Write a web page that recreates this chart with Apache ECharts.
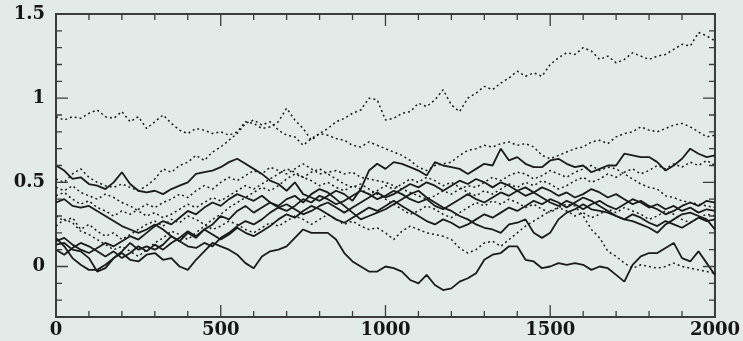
<!DOCTYPE html>
<html>
<head>
<meta charset="utf-8">
<script src="https://cdn.jsdelivr.net/npm/echarts@6/dist/echarts.min.js"></script>
<style>
html,body{margin:0;padding:0;background:#e3ebe8;}
#chart{width:743px;height:341px;}
</style>
</head>
<body>
<div id="chart"></div>
<script>
// x positions (iteration number)
const steps = [0,25,50,75,100,125,150,175,200,225,
250,275,300,325,350,375,400,425,450,475,
500,525,550,575,600,625,650,675,700,725,
750,775,800,825,850,875,900,925,950,975,
1000,1025,1050,1075,1100,1125,1150,1175,1200,1225,
1250,1275,1300,1325,1350,1375,1400,1425,1450,1475,
1500,1525,1550,1575,1600,1625,1650,1675,1700,1725,
1750,1775,1800,1825,1850,1875,1900,1925,1950,1975,
2000];

// tick values
const xTicks = [0,500,1000,1500,2000];
const xMinorTicks = [100,200,300,400,600,700,800,900,1100,1200,1300,1400,1600,1700,1800,1900];
const yTicks = [0,0.5,1,1.5];
const yMinorTicks = [-0.2,-0.1,0.1,0.2,0.3,0.4,0.6,0.7,0.8,0.9,1.1,1.2,1.3,1.4];

// traces (dotted = d, solid = s)
const traceA_d = [0.89,0.87,0.89,0.88,0.91,0.93,0.89,0.88,0.92,0.86,
0.89,0.82,0.86,0.90,0.85,0.81,0.79,0.82,0.81,0.79,
0.80,0.78,0.80,0.86,0.85,0.82,0.83,0.86,0.94,0.87,
0.82,0.75,0.79,0.82,0.86,0.88,0.91,0.93,1.00,0.99,
0.87,0.88,0.91,0.92,0.97,0.95,0.99,1.05,0.96,0.92,
1.00,1.03,1.07,1.05,1.09,1.12,1.16,1.13,1.15,1.13,
1.20,1.24,1.27,1.26,1.30,1.28,1.23,1.25,1.21,1.23,
1.27,1.25,1.23,1.25,1.26,1.29,1.32,1.31,1.39,1.37,
1.34];

const traceB_d = [0.52,0.50,0.55,0.58,0.53,0.50,0.48,0.47,0.49,0.47,
0.45,0.48,0.52,0.58,0.56,0.60,0.62,0.66,0.63,0.68,
0.71,0.75,0.79,0.85,0.87,0.84,0.86,0.81,0.78,0.77,
0.72,0.76,0.79,0.78,0.76,0.75,0.72,0.71,0.74,0.72,
0.70,0.68,0.66,0.63,0.59,0.57,0.60,0.61,0.62,0.66,
0.69,0.70,0.72,0.71,0.73,0.74,0.72,0.73,0.71,0.66,
0.64,0.66,0.68,0.70,0.71,0.74,0.75,0.73,0.77,0.79,
0.80,0.83,0.81,0.80,0.82,0.84,0.85,0.83,0.80,0.77,
0.78];

const traceC_s = [0.60,0.57,0.52,0.53,0.49,0.48,0.46,0.50,0.56,0.49,
0.45,0.44,0.45,0.43,0.46,0.48,0.50,0.55,0.56,0.57,
0.59,0.62,0.64,0.61,0.58,0.55,0.51,0.49,0.45,0.50,
0.43,0.41,0.39,0.42,0.45,0.43,0.39,0.46,0.57,0.61,
0.58,0.62,0.61,0.59,0.57,0.54,0.62,0.60,0.59,0.58,
0.55,0.58,0.61,0.60,0.70,0.63,0.65,0.61,0.59,0.59,
0.63,0.64,0.61,0.59,0.60,0.56,0.58,0.60,0.60,0.67,
0.66,0.65,0.65,0.62,0.57,0.60,0.64,0.70,0.67,0.65,
0.66];

const traceD_s = [0.17,0.12,0.05,0.01,-0.02,-0.02,0.01,0.05,0.08,0.04,
0.03,0.07,0.08,0.04,0.05,0.00,-0.02,0.04,0.09,0.14,
0.12,0.10,0.07,0.02,-0.01,0.06,0.09,0.10,0.12,0.17,
0.22,0.20,0.20,0.20,0.16,0.08,0.03,0.00,-0.03,-0.03,
0.00,-0.01,-0.03,-0.08,-0.10,-0.05,-0.11,-0.14,-0.13,-0.09,
-0.07,-0.04,0.04,0.07,0.08,0.12,0.12,0.04,0.03,-0.01,
0.00,0.02,0.01,0.02,0.01,-0.02,0.00,-0.01,-0.05,-0.09,
0.01,0.06,0.08,0.08,0.11,0.14,0.05,0.03,0.09,0.02,
-0.05];

const traceE_s = [0.13,0.14,0.10,0.09,0.05,-0.03,-0.01,0.05,0.09,0.14,
0.10,0.12,0.10,0.13,0.18,0.15,0.20,0.17,0.22,0.25,
0.30,0.28,0.33,0.36,0.32,0.35,0.38,0.36,0.40,0.42,
0.38,0.43,0.46,0.44,0.40,0.36,0.32,0.28,0.30,0.32,
0.34,0.37,0.40,0.43,0.45,0.41,0.38,0.35,0.33,0.30,
0.28,0.25,0.23,0.22,0.20,0.25,0.26,0.28,0.20,0.17,
0.20,0.28,0.32,0.34,0.37,0.34,0.33,0.32,0.30,0.28,
0.27,0.25,0.23,0.20,0.25,0.28,0.31,0.32,0.30,0.28,
0.22];

const traceF_d = [0.30,0.27,0.29,0.22,0.25,0.21,0.18,0.20,0.16,0.19,
0.22,0.25,0.27,0.24,0.28,0.26,0.30,0.28,0.25,0.22,
0.24,0.27,0.25,0.22,0.20,0.23,0.26,0.24,0.27,0.30,
0.28,0.25,0.28,0.31,0.28,0.25,0.27,0.24,0.22,0.23,
0.20,0.16,0.21,0.24,0.22,0.20,0.19,0.18,0.16,0.11,
0.08,0.10,0.14,0.15,0.12,0.16,0.20,0.24,0.27,0.30,
0.33,0.35,0.37,0.36,0.30,0.22,0.17,0.09,0.06,0.02,
-0.01,0.01,0.00,-0.01,0.00,0.02,0.00,-0.01,-0.02,-0.03,
-0.04];

const traceG_d = [0.42,0.44,0.40,0.37,0.39,0.35,0.33,0.30,0.33,0.31,
0.34,0.37,0.35,0.38,0.40,0.43,0.41,0.45,0.48,0.46,
0.50,0.53,0.51,0.54,0.57,0.55,0.59,0.57,0.55,0.58,
0.61,0.58,0.55,0.56,0.57,0.55,0.56,0.53,0.52,0.51,
0.50,0.48,0.46,0.44,0.42,0.40,0.42,0.45,0.43,0.46,
0.48,0.47,0.50,0.53,0.51,0.54,0.56,0.55,0.52,0.54,
0.57,0.55,0.53,0.56,0.58,0.60,0.57,0.59,0.58,0.55,
0.52,0.49,0.47,0.46,0.42,0.41,0.39,0.38,0.37,0.36,
0.35];

const traceH_s = [0.38,0.40,0.36,0.35,0.36,0.33,0.30,0.27,0.24,0.22,
0.20,0.22,0.25,0.22,0.18,0.15,0.12,0.11,0.14,0.12,
0.17,0.20,0.24,0.27,0.25,0.28,0.32,0.35,0.33,0.36,
0.40,0.38,0.42,0.40,0.37,0.39,0.42,0.45,0.43,0.40,
0.42,0.45,0.43,0.40,0.38,0.40,0.36,0.34,0.37,0.40,
0.43,0.40,0.38,0.41,0.44,0.42,0.45,0.42,0.44,0.47,
0.45,0.42,0.44,0.41,0.43,0.46,0.44,0.41,0.43,0.40,
0.37,0.39,0.36,0.34,0.31,0.33,0.36,0.38,0.36,0.39,
0.38];

const traceI_d = [0.24,0.28,0.26,0.21,0.19,0.16,0.13,0.10,0.12,0.09,
0.06,0.10,0.14,0.17,0.21,0.19,0.16,0.20,0.24,0.28,
0.31,0.35,0.38,0.41,0.44,0.47,0.45,0.48,0.52,0.55,
0.53,0.56,0.58,0.55,0.52,0.49,0.47,0.49,0.46,0.43,
0.40,0.37,0.34,0.31,0.33,0.36,0.34,0.31,0.29,0.32,
0.35,0.38,0.36,0.39,0.37,0.40,0.38,0.35,0.37,0.34,
0.32,0.35,0.33,0.30,0.32,0.29,0.31,0.34,0.32,0.35,
0.33,0.31,0.28,0.30,0.33,0.31,0.28,0.26,0.29,0.31,
0.30];

const traceJ_s = [0.10,0.07,0.11,0.14,0.12,0.09,0.06,0.09,0.05,0.08,
0.12,0.09,0.13,0.10,0.14,0.17,0.21,0.18,0.22,0.19,
0.16,0.19,0.23,0.20,0.18,0.21,0.24,0.28,0.31,0.29,
0.33,0.36,0.34,0.31,0.28,0.26,0.29,0.32,0.35,0.33,
0.36,0.39,0.36,0.33,0.30,0.27,0.25,0.28,0.26,0.23,
0.25,0.28,0.31,0.29,0.32,0.35,0.33,0.36,0.39,0.37,
0.40,0.38,0.35,0.38,0.41,0.39,0.36,0.33,0.30,0.28,
0.31,0.29,0.26,0.24,0.27,0.25,0.23,0.26,0.29,0.27,
0.28];

const traceK_s = [0.15,0.17,0.13,0.10,0.08,0.11,0.14,0.12,0.15,0.18,
0.16,0.20,0.24,0.27,0.25,0.29,0.33,0.31,0.35,0.38,
0.36,0.40,0.43,0.41,0.39,0.42,0.38,0.35,0.37,0.34,
0.31,0.33,0.36,0.38,0.35,0.32,0.35,0.38,0.41,0.44,
0.41,0.43,0.46,0.49,0.47,0.50,0.48,0.45,0.48,0.51,
0.49,0.52,0.50,0.47,0.50,0.48,0.45,0.47,0.44,0.41,
0.38,0.36,0.39,0.37,0.34,0.37,0.39,0.36,0.34,0.37,
0.40,0.38,0.35,0.37,0.34,0.36,0.33,0.35,0.32,0.34,
0.33];

const traceL_d = [0.47,0.45,0.48,0.44,0.42,0.40,0.43,0.41,0.38,0.36,
0.33,0.30,0.32,0.29,0.31,0.34,0.37,0.35,0.38,0.41,
0.39,0.42,0.45,0.48,0.46,0.49,0.52,0.55,0.58,0.56,
0.53,0.51,0.48,0.50,0.47,0.45,0.48,0.46,0.43,0.45,
0.48,0.46,0.49,0.52,0.50,0.53,0.51,0.48,0.50,0.47,
0.44,0.42,0.45,0.43,0.46,0.49,0.47,0.50,0.48,0.51,
0.49,0.46,0.48,0.51,0.53,0.50,0.52,0.55,0.53,0.56,
0.58,0.55,0.57,0.60,0.58,0.61,0.59,0.62,0.60,0.63,
0.60];

const traces = [
  {name:'A', y:traceA_d, dotted:true},
  {name:'B', y:traceB_d, dotted:true},
  {name:'C', y:traceC_s, dotted:false},
  {name:'D', y:traceD_s, dotted:false},
  {name:'E', y:traceE_s, dotted:false},
  {name:'F', y:traceF_d, dotted:true},
  {name:'G', y:traceG_d, dotted:true},
  {name:'H', y:traceH_s, dotted:false},
  {name:'I', y:traceI_d, dotted:true},
  {name:'J', y:traceJ_s, dotted:false},
  {name:'K', y:traceK_s, dotted:false},
  {name:'L', y:traceL_d, dotted:true}
];

const X_MIN = 0, X_MAX = 2000, Y_MIN = -0.3, Y_MAX = 1.5;
const ink = '#1b1b1b';
const axisCol = '#3c3c3c';
const labelFont = {fontFamily:'DejaVu Serif', fontWeight:'bold', fontSize:18, color:'#161616'};

const yFmt = function(v){
  const r = Math.round(v*2)/2;
  if (Math.abs(v - r) > 1e-6) return '';
  return String(Math.round(r*10)/10);
};
const xFmt = function(v){
  return xTicks.indexOf(Math.round(v)) >= 0 ? String(Math.round(v)) : '';
};

function xAxisDef(pos, showLabel){
  return {
    type:'value', position:pos, min:X_MIN, max:X_MAX, interval:500,
    axisLine:{show:true, onZero:false, lineStyle:{color:axisCol, width:2}},
    axisTick:{show:false},
    splitLine:{show:false},
    axisLabel:Object.assign({show:showLabel, margin:4, formatter:xFmt}, labelFont)
  };
}
function yAxisDef(pos, showLabel){
  return {
    type:'value', position:pos, min:Y_MIN, max:Y_MAX, interval:0.1,
    axisLine:{show:true, onZero:false, lineStyle:{color:axisCol, width:2}},
    axisTick:{show:false},
    splitLine:{show:false},
    axisLabel:Object.assign({show:showLabel, margin:11, formatter:yFmt}, labelFont)
  };
}

const lineSeries = traces.map(t => ({
  name:t.name, type:'line', xAxisIndex:0, yAxisIndex:0,
  showSymbol:false, symbol:'none', silent:true,
  data: steps.map((x,i) => [x, t.y[i]]),
  lineStyle:{color:ink, width:t.dotted?1.5:1.8, type:t.dotted?[2,3]:'solid'}
}));

const chart = echarts.init(document.getElementById('chart'), null, {renderer:'canvas'});
chart.setOption({
  backgroundColor:'#e3ebe8',
  animation:false,
  grid:{left:56, right:15, top:14, bottom:24, show:true, borderColor:axisCol, borderWidth:2, backgroundColor:'transparent'},
  xAxis:[xAxisDef('bottom', true), xAxisDef('top', false)],
  yAxis:[yAxisDef('left', true), yAxisDef('right', false)],
  series: lineSeries
});

// tick marks drawn as short segments through the axes' own scales;
// their length (in pixels) is converted into data units with the chart's converter
const corner = chart.convertToPixel({gridIndex:0}, [X_MIN, Y_MIN]);
function unitsFor(px){
  const p = chart.convertFromPixel({gridIndex:0}, [corner[0] + px, corner[1] - px]);
  return [p[0] - X_MIN, p[1] - Y_MIN];
}
function tickData(xs, ys, px){
  const u = unitsFor(px);
  const out = [];
  xs.forEach(v => {
    out.push([v, Y_MIN], [v, Y_MIN + u[1]], ['-', '-']);
    out.push([v, Y_MAX], [v, Y_MAX - u[1]], ['-', '-']);
  });
  ys.forEach(v => {
    out.push([X_MIN, v], [X_MIN + u[0], v], ['-', '-']);
    out.push([X_MAX, v], [X_MAX - u[0], v], ['-', '-']);
  });
  return out;
}
function tickSeries(name, data){
  return {
    name:name, type:'line', xAxisIndex:0, yAxisIndex:0, silent:true,
    showSymbol:false, symbol:'none', connectNulls:false, clip:false, z:4,
    data:data, lineStyle:{color:axisCol, width:1.3, type:'solid'}
  };
}
chart.setOption({
  series: lineSeries.concat([
    tickSeries('majorTicks', tickData(xTicks, yTicks, 12)),
    tickSeries('minorTicks', tickData(xMinorTicks, yMinorTicks, 6))
  ])
});
</script>
</body>
</html>
